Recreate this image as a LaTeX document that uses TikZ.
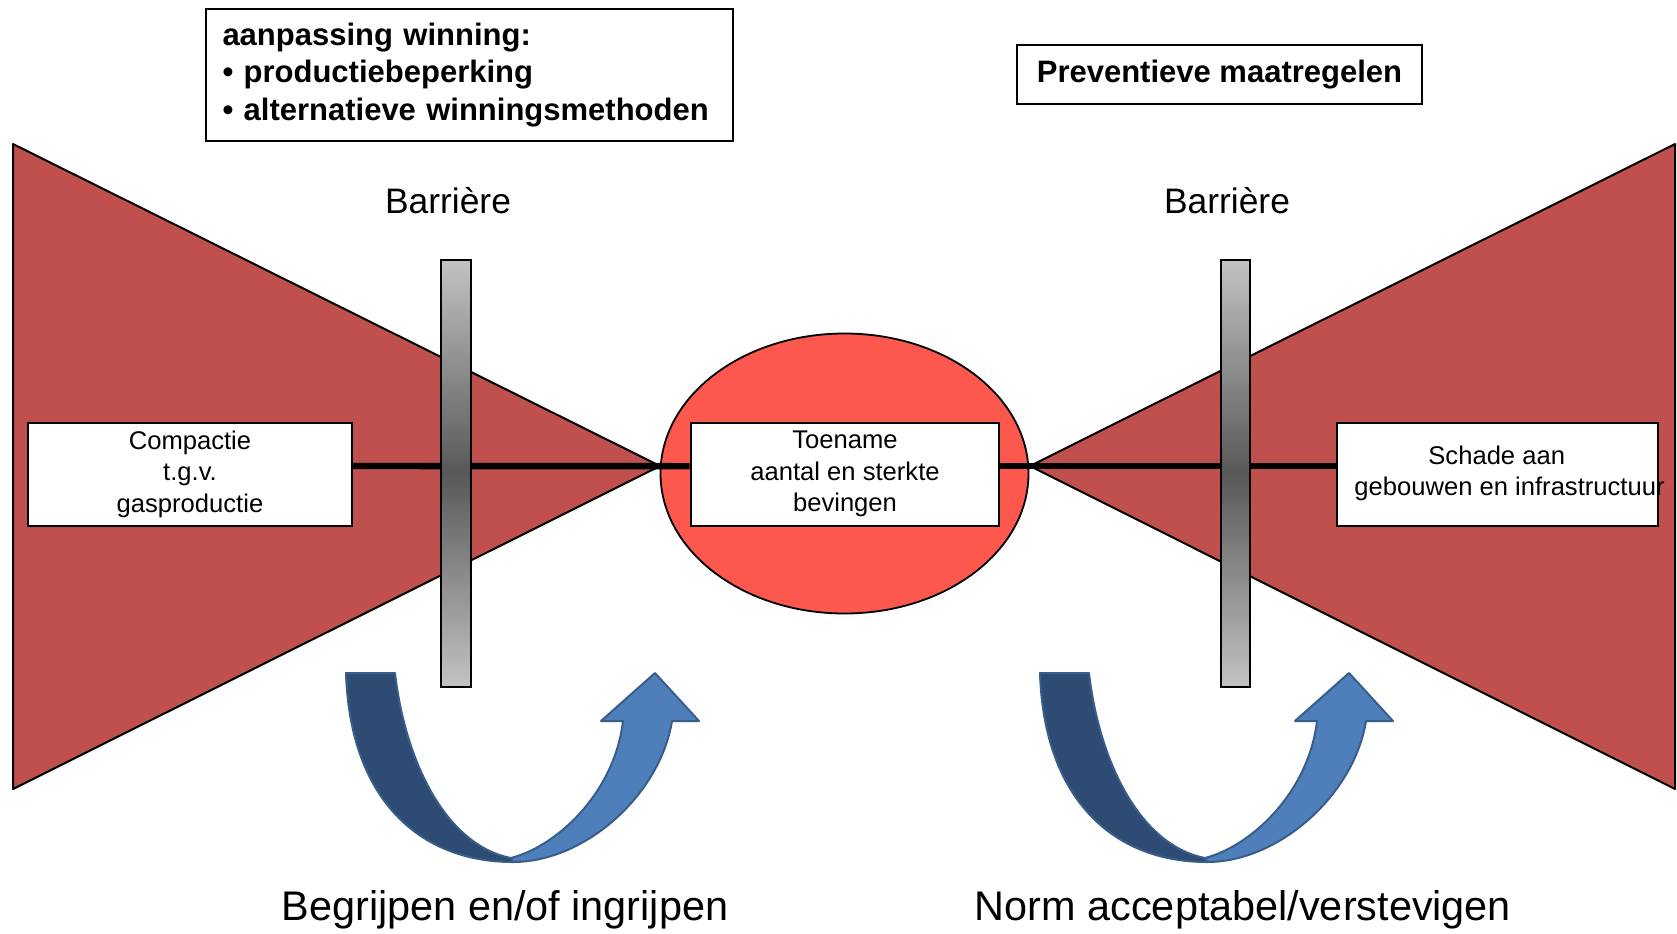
\documentclass[tikz,border=0pt]{standalone}
\usepackage{fontspec}
\setmainfont{Liberation Sans}
\usetikzlibrary{shapes.geometric}
\definecolor{trired}{RGB}{192,80,77}
\definecolor{ellred}{RGB}{252,88,78}
\definecolor{barlight}{RGB}{195,195,195}
\definecolor{bardark}{RGB}{88,88,88}
\definecolor{adark}{RGB}{46,75,115}
\definecolor{alight}{RGB}{79,127,187}
\definecolor{aline}{RGB}{56,93,138}
\begin{document}
\begin{tikzpicture}[x=0.5pt,y=-0.5pt,
  redtri/.style={fill=trired,draw=black,line width=1pt,line join=round},
  ellnode/.style={ellipse,draw=black,line width=0.9pt,fill=ellred,minimum width=184pt,minimum height=140pt,inner sep=0pt},
  conn/.style={draw=black,line width=3.2pt},
  barrect/.style={draw=black,line width=1pt,top color=barlight,bottom color=barlight,middle color=bardark},
  box/.style={draw=black,line width=1pt,fill=white,inner sep=0pt,minimum height=51.5pt,align=center,font=\fontsize{12.8}{15.8}\selectfont},
  boldbox/.style={draw=black,line width=1pt,fill=white,font=\bfseries\fontsize{15.5}{18.75}\selectfont},
  barlabel/.style={anchor=base,font=\fontsize{17.7}{20}\selectfont},
  biglabel/.style={anchor=base,font=\fontsize{20.7}{24}\selectfont},
  darkarm/.style={fill=adark,draw=aline,line width=1pt,line join=round},
  lightarm/.style={fill=alight,draw=aline,line width=1pt,line join=round}
]
\useasboundingbox (0,0) rectangle (1677,933);

% bow-tie triangles
\path[redtri] (13,144) -- (13,789) -- (660,466) -- cycle;
\path[redtri] (1675,144) -- (1675,789) -- (1030,466) -- cycle;

% central event ellipse
\node[ellnode] (ell) at (844.5,473.5) {};

% boxes
\node[box,minimum width=162pt] (lbox) at (190,474) {Compactie\\t.g.v.\\gasproductie};
\node[box,minimum width=154.3pt] (cbox) at (845,474.2) {Toename\\aantal en sterkte\\bevingen};
\node[box,minimum width=160.5pt] (rbox) at (1497.5,474.2) {};

% connectors
\draw[conn] ([yshift=4pt]lbox.east) -- ([yshift=4pt]cbox.west);
\draw[conn] ([yshift=4pt]cbox.east) -- ([yshift=4pt]rbox.west);

% barriers
\path[barrect] (441,260) rectangle (470.5,687);
\path[barrect] (1221,260) rectangle (1250,687);

% redraw box fronts above the lines
\node[box,minimum width=162pt] at (lbox) {Compactie\\t.g.v.\\gasproductie};
\node[box,minimum width=154.3pt] at (cbox) {Toename\\aantal en sterkte\\bevingen};
\node[box,minimum width=160.5pt] at (rbox) {};
\node[anchor=west,inner sep=0pt,align=left,font=\fontsize{12.8}{15.4}\selectfont] (rtext) at (1354,473) {\hspace*{37pt}Schade aan\\gebouwen en infrastructuur};

% labels
\node[barlabel] (bar1) at (448,213) {Barrière};
\node[barlabel] (bar2) at (1227,213) {Barrière};

\node[boldbox,minimum width=263.5pt,minimum height=66pt,text width=247pt,inner xsep=8.25pt,inner ysep=0pt,align=left] (topbox) at (469.5,75)
  {aanpassing winning:\\• productiebeperking\\• alternatieve winningsmethoden};
\node[boldbox,minimum width=202.5pt,minimum height=29.5pt,inner sep=0pt] (prevbox) at (1219.5,74.5) {Preventieve maatregelen};

% curved arrows
\foreach \dx in {0pt, 347pt}{
\begin{scope}[xshift=\dx]
\path[darkarm] (346,673) -- (395,673) .. controls (405,760) and (445,845) .. (511,858)
   -- (513,862) .. controls (420,862) and (350,800) .. (346,673) -- cycle;
\path[lightarm] (511,858) .. controls (560,845) and (615,790) .. (623,721)
   -- (601,721) -- (655,673) -- (699,721) -- (672,721)
   .. controls (660,795) and (585,862) .. (513,862) -- cycle;
\end{scope}
}

\node[biglabel] (lbl1) at (505,920) {Begrijpen en/of ingrijpen};
\node[biglabel] (lbl2) at (1243,920) {Norm acceptabel/verstevigen};
\end{tikzpicture}
\end{document}
